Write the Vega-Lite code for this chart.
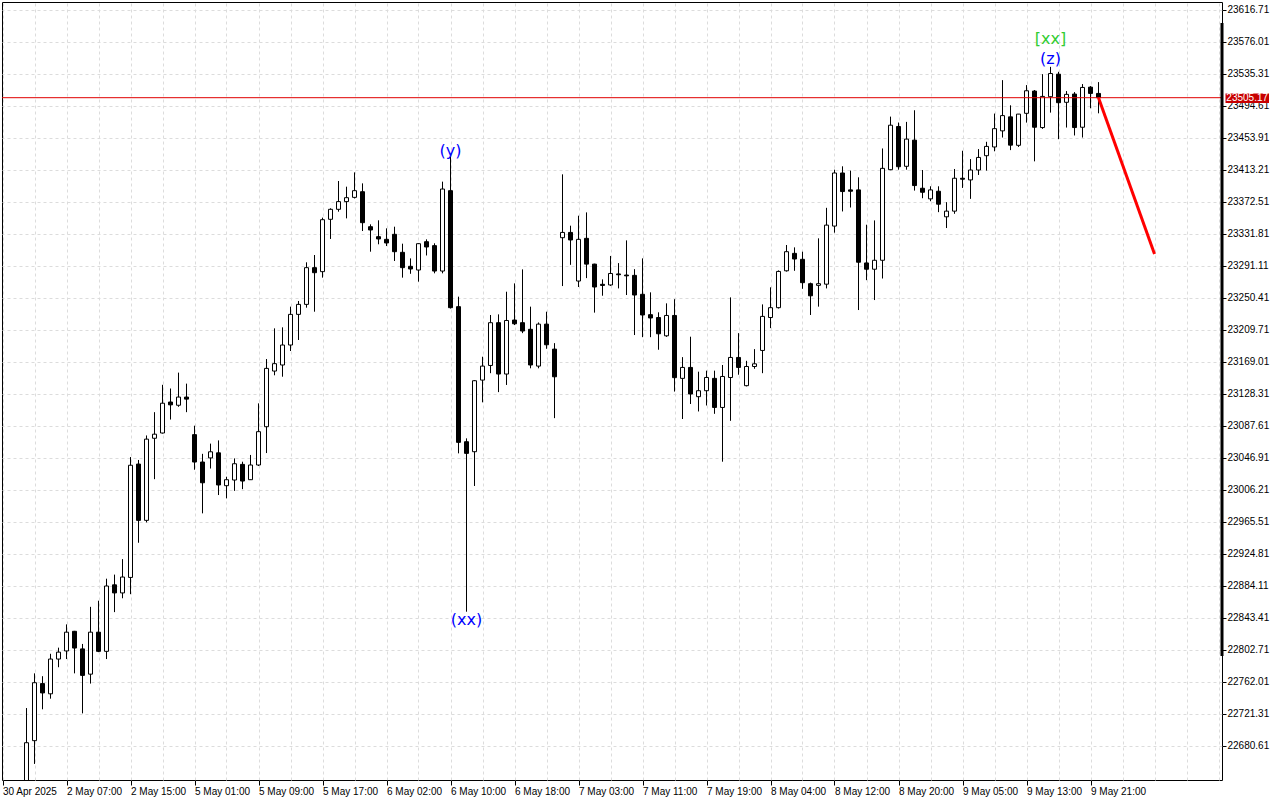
{
  "$schema": "https://vega.github.io/schema/vega-lite/v6.json",
  "width": 1220,
  "height": 778,
  "autosize": "none",
  "padding": {"left": 2, "top": 2, "right": 58, "bottom": 20},
  "background": "white",
  "config": {"view": {"stroke": "black", "strokeWidth": 1}, "font": "Liberation Sans"},
  "datasets": {
    "candles": [
      {"i":3,"o":22625,"h":22728.9,"l":22610,"c":22684.8},
      {"i":4,"o":22687.4,"h":22773.0,"l":22657.8,"c":22761.1},
      {"i":5,"o":22760.0,"h":22769.4,"l":22727.3,"c":22748.1},
      {"i":6,"o":22747.0,"h":22797.9,"l":22740.8,"c":22791.2},
      {"i":7,"o":22791.2,"h":22805.7,"l":22780.8,"c":22800.0},
      {"i":8,"o":22801.5,"h":22835.3,"l":22791.2,"c":22825.4},
      {"i":9,"o":22826.5,"h":22827.0,"l":22773.0,"c":22805.2},
      {"i":10,"o":22804.1,"h":22810.4,"l":22722.1,"c":22770.4},
      {"i":11,"o":22772.0,"h":22857.6,"l":22760.0,"c":22825.4},
      {"i":12,"o":22825.4,"h":22865.4,"l":22800.0,"c":22801.0},
      {"i":13,"o":22801.0,"h":22893.4,"l":22791.2,"c":22884.1},
      {"i":14,"o":22885.6,"h":22898.6,"l":22850.9,"c":22875.3},
      {"i":15,"o":22875.3,"h":22918.3,"l":22868.5,"c":22895.5},
      {"i":16,"o":22895.0,"h":23048.1,"l":22873.7,"c":23037.7},
      {"i":17,"o":23039.2,"h":23044.4,"l":22939.1,"c":22967.6},
      {"i":18,"o":22967.6,"h":23075.6,"l":22965.0,"c":23070.9},
      {"i":19,"o":23072.0,"h":23105.2,"l":23020.0,"c":23077.2},
      {"i":20,"o":23078.7,"h":23140.0,"l":23078.0,"c":23116.6},
      {"i":21,"o":23118.1,"h":23135.3,"l":23095.8,"c":23114.5},
      {"i":22,"o":23114.0,"h":23155.5,"l":23112.0,"c":23124.4},
      {"i":23,"o":23124.4,"h":23141.5,"l":23105.2,"c":23121.8},
      {"i":24,"o":23076.6,"h":23088.0,"l":23032.0,"c":23041.8},
      {"i":25,"o":23041.8,"h":23052.2,"l":22976.5,"c":23015.4},
      {"i":26,"o":23047.0,"h":23065.2,"l":23033.5,"c":23054.8},
      {"i":27,"o":23053.5,"h":23069.3,"l":22999.8,"c":23012.6},
      {"i":28,"o":23011.7,"h":23023.1,"l":22995.6,"c":23019.3},
      {"i":29,"o":23018.9,"h":23046.4,"l":23005.1,"c":23039.6},
      {"i":30,"o":23038.8,"h":23042.2,"l":23007.3,"c":23017.6},
      {"i":31,"o":23019.3,"h":23050.8,"l":23019.0,"c":23038.0},
      {"i":32,"o":23038.0,"h":23116.4,"l":23036.7,"c":23080.4},
      {"i":33,"o":23086.7,"h":23172.8,"l":23053.2,"c":23160.9},
      {"i":34,"o":23157.5,"h":23211.8,"l":23152.1,"c":23166.9},
      {"i":35,"o":23165.2,"h":23213.1,"l":23150.3,"c":23190.6},
      {"i":36,"o":23190.6,"h":23239.4,"l":23183.0,"c":23229.6},
      {"i":37,"o":23229.6,"h":23246.6,"l":23197.0,"c":23242.3},
      {"i":38,"o":23242.3,"h":23295.8,"l":23238.1,"c":23289.0},
      {"i":39,"o":23289.0,"h":23305.1,"l":23233.0,"c":23282.6},
      {"i":40,"o":23283.9,"h":23352.6,"l":23276.3,"c":23350.0},
      {"i":41,"o":23350.5,"h":23364.5,"l":23325.5,"c":23363.2},
      {"i":42,"o":23363.2,"h":23399.2,"l":23360.2,"c":23373.0},
      {"i":43,"o":23373.0,"h":23392.0,"l":23351.7,"c":23378.0},
      {"i":44,"o":23378.4,"h":23410.2,"l":23377.0,"c":23386.9},
      {"i":45,"o":23385.6,"h":23396.2,"l":23335.6,"c":23346.2},
      {"i":46,"o":23341.1,"h":23344.1,"l":23309.3,"c":23336.9},
      {"i":47,"o":23328.4,"h":23349.2,"l":23318.7,"c":23325.5},
      {"i":48,"o":23325.0,"h":23339.0,"l":23316.5,"c":23320.4},
      {"i":49,"o":23331.4,"h":23341.1,"l":23297.5,"c":23309.3},
      {"i":50,"o":23308.5,"h":23319.5,"l":23276.3,"c":23289.0},
      {"i":51,"o":23290.7,"h":23300.8,"l":23281.2,"c":23287.3},
      {"i":52,"o":23286.0,"h":23320.0,"l":23271.2,"c":23319.5},
      {"i":53,"o":23322.0,"h":23325.0,"l":23304.5,"c":23315.3},
      {"i":54,"o":23317.0,"h":23320.0,"l":23281.8,"c":23284.7},
      {"i":55,"o":23284.7,"h":23398.4,"l":23281.8,"c":23389.0},
      {"i":56,"o":23386.9,"h":23430.2,"l":23237.0,"c":23238.1},
      {"i":57,"o":23239.4,"h":23252.1,"l":23052.8,"c":23066.8},
      {"i":58,"o":23067.6,"h":23071.9,"l":22851.4,"c":23052.8},
      {"i":59,"o":23054.9,"h":23146.0,"l":23011.3,"c":23145.2},
      {"i":60,"o":23146.0,"h":23175.7,"l":23117.7,"c":23163.8},
      {"i":61,"o":23164.6,"h":23228.8,"l":23154.8,"c":23219.0},
      {"i":62,"o":23219.0,"h":23229.6,"l":23130.7,"c":23153.7},
      {"i":63,"o":23153.7,"h":23258.4,"l":23139.8,"c":23221.8},
      {"i":64,"o":23222.4,"h":23269.0,"l":23216.0,"c":23217.6},
      {"i":65,"o":23219.0,"h":23286.8,"l":23205.7,"c":23208.4},
      {"i":66,"o":23210.6,"h":23239.4,"l":23161.0,"c":23165.2},
      {"i":67,"o":23163.8,"h":23219.3,"l":23161.0,"c":23217.2},
      {"i":68,"o":23217.2,"h":23233.0,"l":23185.8,"c":23190.9},
      {"i":69,"o":23185.4,"h":23193.0,"l":23097.6,"c":23150.2},
      {"i":70,"o":23327.1,"h":23407.7,"l":23265.6,"c":23333.8},
      {"i":71,"o":23333.8,"h":23342.4,"l":23292.6,"c":23324.2},
      {"i":72,"o":23272.0,"h":23355.1,"l":23264.4,"c":23325.0},
      {"i":73,"o":23326.3,"h":23359.3,"l":23275.7,"c":23293.5},
      {"i":74,"o":23293.5,"h":23294.0,"l":23231.8,"c":23264.4},
      {"i":75,"o":23267.8,"h":23274.1,"l":23253.3,"c":23266.4},
      {"i":76,"o":23267.0,"h":23303.9,"l":23265.8,"c":23281.6},
      {"i":77,"o":23281.0,"h":23294.8,"l":23262.6,"c":23280.0},
      {"i":78,"o":23279.6,"h":23323.7,"l":23254.2,"c":23278.6},
      {"i":79,"o":23279.2,"h":23287.1,"l":23203.3,"c":23254.2},
      {"i":80,"o":23255.1,"h":23300.8,"l":23200.6,"c":23228.8},
      {"i":81,"o":23229.2,"h":23257.6,"l":23200.6,"c":23225.0},
      {"i":82,"o":23225.6,"h":23232.2,"l":23184.6,"c":23204.9},
      {"i":83,"o":23202.3,"h":23243.6,"l":23201.0,"c":23228.2},
      {"i":84,"o":23228.2,"h":23248.9,"l":23131.4,"c":23149.1},
      {"i":85,"o":23148.2,"h":23175.2,"l":23096.5,"c":23162.1},
      {"i":86,"o":23162.1,"h":23201.2,"l":23115.6,"c":23128.3},
      {"i":87,"o":23124.9,"h":23156.7,"l":23106.1,"c":23132.5},
      {"i":88,"o":23132.5,"h":23158.0,"l":23113.7,"c":23149.3},
      {"i":89,"o":23148.2,"h":23158.0,"l":23103.1,"c":23111.2},
      {"i":90,"o":23111.2,"h":23165.2,"l":23042.2,"c":23150.6},
      {"i":91,"o":23149.3,"h":23251.2,"l":23094.2,"c":23174.8},
      {"i":92,"o":23174.8,"h":23205.7,"l":23152.8,"c":23162.1},
      {"i":93,"o":23138.9,"h":23170.5,"l":23138.0,"c":23163.3},
      {"i":94,"o":23163.3,"h":23185.4,"l":23160.4,"c":23166.7},
      {"i":95,"o":23183.7,"h":23242.3,"l":23154.8,"c":23227.0},
      {"i":96,"o":23225.6,"h":23264.0,"l":23212.1,"c":23238.1},
      {"i":97,"o":23238.1,"h":23285.5,"l":23237.0,"c":23284.2},
      {"i":98,"o":23285.0,"h":23317.8,"l":23284.0,"c":23309.3},
      {"i":99,"o":23307.2,"h":23314.8,"l":23285.0,"c":23300.0},
      {"i":100,"o":23299.6,"h":23309.3,"l":23262.1,"c":23269.9},
      {"i":101,"o":23268.6,"h":23270.0,"l":23228.8,"c":23253.2},
      {"i":102,"o":23266.5,"h":23326.3,"l":23239.4,"c":23268.6},
      {"i":103,"o":23268.0,"h":23365.1,"l":23262.6,"c":23343.1},
      {"i":104,"o":23341.9,"h":23413.6,"l":23333.5,"c":23409.4},
      {"i":105,"o":23409.4,"h":23417.9,"l":23360.5,"c":23385.8},
      {"i":106,"o":23387.9,"h":23412.4,"l":23365.5,"c":23386.2},
      {"i":107,"o":23387.9,"h":23403.9,"l":23235.1,"c":23295.9},
      {"i":108,"o":23295.0,"h":23343.6,"l":23273.1,"c":23287.0},
      {"i":109,"o":23287.0,"h":23349.1,"l":23247.8,"c":23298.4},
      {"i":110,"o":23298.4,"h":23440.6,"l":23275.2,"c":23415.3},
      {"i":111,"o":23413.6,"h":23481.1,"l":23413.0,"c":23470.2},
      {"i":112,"o":23468.5,"h":23473.6,"l":23413.6,"c":23417.4},
      {"i":113,"o":23417.9,"h":23474.4,"l":23413.6,"c":23452.5},
      {"i":114,"o":23451.2,"h":23489.2,"l":23387.0,"c":23393.4},
      {"i":115,"o":23390.0,"h":23413.2,"l":23377.3,"c":23384.9},
      {"i":116,"o":23376.5,"h":23392.5,"l":23373.5,"c":23387.9},
      {"i":117,"o":23386.2,"h":23392.5,"l":23359.6,"c":23369.7},
      {"i":118,"o":23353.7,"h":23372.3,"l":23339.4,"c":23360.9},
      {"i":119,"o":23360.9,"h":23414.5,"l":23357.5,"c":23402.7},
      {"i":120,"o":23402.7,"h":23437.7,"l":23390.4,"c":23401.5},
      {"i":121,"o":23400.6,"h":23427.1,"l":23376.5,"c":23413.2},
      {"i":122,"o":23413.2,"h":23439.8,"l":23406.9,"c":23429.2},
      {"i":123,"o":23431.4,"h":23449.1,"l":23412.4,"c":23443.2},
      {"i":124,"o":23442.5,"h":23485.0,"l":23437.0,"c":23465.8},
      {"i":125,"o":23463.0,"h":23527.5,"l":23454.5,"c":23482.4},
      {"i":126,"o":23480.8,"h":23495.5,"l":23438.5,"c":23444.8},
      {"i":127,"o":23444.6,"h":23484.5,"l":23442.5,"c":23484.3},
      {"i":128,"o":23485.3,"h":23521.2,"l":23473.5,"c":23514.0},
      {"i":129,"o":23513.6,"h":23514.9,"l":23424.2,"c":23467.6},
      {"i":130,"o":23467.2,"h":23535.1,"l":23465.5,"c":23506.8},
      {"i":131,"o":23506.4,"h":23544.4,"l":23486.2,"c":23535.9},
      {"i":132,"o":23535.1,"h":23538.1,"l":23452.4,"c":23498.8},
      {"i":133,"o":23499.3,"h":23513.6,"l":23467.2,"c":23509.4},
      {"i":134,"o":23509.8,"h":23512.3,"l":23457.1,"c":23467.2},
      {"i":135,"o":23467.6,"h":23522.5,"l":23454.5,"c":23518.2},
      {"i":136,"o":23518.6,"h":23519.9,"l":23491.7,"c":23510.6},
      {"i":137,"o":23510.6,"h":23525.0,"l":23485.3,"c":23505.17}
    ],
    "labels": [
      {"i":56,"price":23437.4,"label":"(y)"},
      {"i":58,"price":22840.9,"label":"(xx)"},
      {"i":131,"price":23554.4,"label":"(z)"},
      {"i":131,"price":23579.8,"label":"[xx]"}
    ],
    "forecast": [
      {"i":137,"price":23505.17},
      {"i":144,"price":23306.5}
    ],
    "current": [
      {"price":23505.17,"text":"23505.17"}
    ]
  },
  "resolve": {"axis": {"x": "independent", "y": "independent"}},
  "layer": [
    {
      "data": {"name": "candles"},
      "mark": {"type": "rule", "color": "black", "strokeWidth": 1, "clip": true},
      "encoding": {
        "x": {
          "field": "i", "type": "quantitative",
          "scale": {"domain": [-0.0625, 152.4375], "nice": false, "zero": false, "padding": 0},
          "axis": {"orient": "top", "values": [0,4,8,12,16,20,24,28,32,36,40,44,48,52,56,60,64,68,72,76,80,84,88,92,96,100,104,108,112,116,120,124,128,132,136,140,144,148,152],
            "grid": true, "gridColor": "#dcdcdc", "gridDash": [3,3], "labels": false, "ticks": false, "domain": false, "title": null}
        },
        "y": {
          "field": "l", "type": "quantitative",
          "scale": {"domain": [22637.365, 23626.885], "nice": false, "zero": false, "padding": 0},
          "axis": {"orient": "right", "values": [23616.71,23576.01,23535.31,23494.61,23453.91,23413.21,23372.51,23331.81,23291.11,23250.41,23209.71,23169.01,23128.31,23087.61,23046.91,23006.21,22965.51,22924.81,22884.11,22843.41,22802.71,22762.01,22721.31,22680.61],
            "format": ".2f", "grid": true, "gridColor": "#dcdcdc", "gridDash": [3,3], "domain": false,
            "ticks": true, "tickSize": 4, "tickColor": "black", "labelPadding": 1, "labelFontSize": 10,
            "labelFont": "Liberation Sans", "labelColor": "black", "labelOverlap": false, "labelBound": false, "labelFlush": false, "labelBaseline": "middle", "title": null}
        },
        "y2": {"field": "h"}
      }
    },
    {
      "data": {"name": "candles"},
      "mark": {"type": "bar", "size": 4, "stroke": "black", "strokeWidth": 1, "clip": true},
      "encoding": {
        "x": {
          "field": "i", "type": "quantitative",
          "axis": {"orient": "bottom", "values": [0,8,16,24,32,40,48,56,64,72,80,88,96,104,112,120,128,136],
            "labelExpr": "['30 Apr 2025','2 May 07:00','2 May 15:00','5 May 01:00','5 May 09:00','5 May 17:00','6 May 02:00','6 May 10:00','6 May 18:00','7 May 03:00','7 May 11:00','7 May 19:00','8 May 04:00','8 May 12:00','8 May 20:00','9 May 05:00','9 May 13:00','9 May 21:00'][round(datum.value/8)]",
            "labelAlign": "left", "labelPadding": 1, "labelFontSize": 10, "labelFont": "Liberation Sans", "labelColor": "black",
            "tickSize": 5, "tickColor": "black", "domain": false, "grid": false, "labelOverlap": false, "labelBound": false, "labelFlush": false, "title": null}
        },
        "y": {"field": "o", "type": "quantitative", "axis": null},
        "y2": {"field": "c"},
        "fill": {"condition": {"test": "datum.c >= datum.o", "value": "white"}, "value": "black"}
      }
    },
    {
      "data": {"name": "current"},
      "mark": {"type": "rule", "color": "#e00000", "strokeWidth": 1},
      "encoding": {"y": {"field": "price", "type": "quantitative", "axis": null}}
    },
    {
      "data": {"name": "forecast"},
      "mark": {"type": "line", "color": "#ff0000", "strokeWidth": 3},
      "encoding": {
        "x": {"field": "i", "type": "quantitative", "axis": null},
        "y": {"field": "price", "type": "quantitative", "axis": null}
      }
    },
    {
      "data": {"name": "labels"},
      "mark": {"type": "text", "font": "DejaVu Sans", "fontSize": 16, "align": "center", "baseline": "middle"},
      "encoding": {
        "x": {"field": "i", "type": "quantitative", "axis": null},
        "y": {"field": "price", "type": "quantitative", "axis": null},
        "text": {"field": "label"},
        "color": {"field": "label", "type": "nominal", "scale": {"domain": ["(y)","(xx)","(z)","[xx]"], "range": ["#0000ff","#0000ff","#0000ff","#32cd32"]}, "legend": null}
      }
    },
    {
      "data": {"values": [{}]},
      "mark": {"type": "rule", "color": "black", "strokeWidth": 3},
      "encoding": {
        "x": {"datum": 152.4375, "type": "quantitative", "axis": null},
        "y": {"datum": 23600.2, "type": "quantitative", "axis": null},
        "y2": {"datum": 22795.1}
      }
    },
    {
      "data": {"name": "current"},
      "mark": {"type": "rect", "color": "#c80000"},
      "encoding": {
        "x": {"datum": 152.875, "type": "quantitative", "axis": null},
        "x2": {"datum": 158.3125},
        "y": {"datum": 23510.5, "type": "quantitative", "axis": null},
        "y2": {"datum": 23498.4}
      }
    },
    {
      "data": {"name": "current"},
      "mark": {"type": "text", "color": "white", "fontSize": 10, "font": "Liberation Sans", "align": "center", "baseline": "middle"},
      "encoding": {
        "x": {"datum": 155.59, "type": "quantitative", "axis": null},
        "y": {"field": "price", "type": "quantitative", "axis": null},
        "text": {"field": "text"}
      }
    }
  ]
}
